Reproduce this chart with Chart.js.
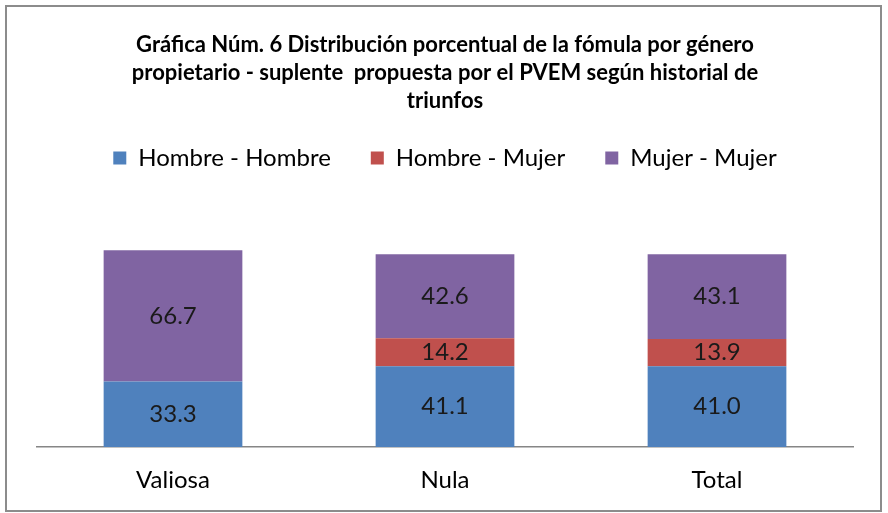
<!DOCTYPE html>
<html>
<head>
<meta charset="utf-8">
<script src="https://cdn.jsdelivr.net/npm/chart.js@4.4.1/dist/chart.umd.min.js"></script>
<style>
  html, body { margin: 0; padding: 0; background: #fff; }
  #wrap { position: relative; width: 888px; height: 513px; }
  #frame { position: absolute; left: 5px; top: 5px; width: 873px; height: 503px; border: 2px solid #8c8c8c; box-sizing: content-box; pointer-events: none; }
</style>
</head>
<body>
<div id="wrap">
  <canvas id="chart" width="888" height="513"></canvas>
  <div id="frame"></div>
</div>
<script>
const categories = ['Valiosa', 'Nula', 'Total'];
const hombreHombre = [33.3, 41.1, 41.0];
const hombreMujer = [0, 14.2, 13.9];
const mujerMujer = [66.7, 42.6, 43.1];
const titleLines = [
    'Gráfica Núm. 6 Distribución porcentual de la fómula por género',
    'propietario - suplente  propuesta por el PVEM según historial de',
    'triunfos'
];

const fontFamily = "Lato, 'Open Sans', sans-serif";

// etiquetas de valor en el centro de cada segmento
const valueLabels = {
    id: 'valueLabels',
    afterDatasetsDraw(chart) {
        const ctx = chart.ctx;
        ctx.save();
        ctx.font = '24px ' + fontFamily;
        ctx.fillStyle = '#1a1a1a';
        ctx.textAlign = 'center';
        ctx.textBaseline = 'middle';
        chart.data.datasets.forEach((ds, i) => {
            const meta = chart.getDatasetMeta(i);
            meta.data.forEach((bar, j) => {
                const v = ds.data[j];
                if (!v) return;
                const mid = (bar.y + bar.base) / 2;
                ctx.fillText(v.toFixed(1), bar.x, mid);
            });
        });
        ctx.restore();
    }
};

const makeSet = (label, data, color) => ({
    label: label,
    data: data,
    backgroundColor: color,
    borderWidth: 0,
    barPercentage: 0.51,
    categoryPercentage: 1
});

new Chart(document.getElementById('chart'), {
    type: 'bar',
    data: {
        labels: categories,
        datasets: [
            makeSet('Hombre - Hombre', hombreHombre, '#4f81bd'),
            makeSet('Hombre - Mujer', hombreMujer, '#c0504d'),
            makeSet('Mujer - Mujer', mujerMujer, '#8064a2')
        ]
    },
    options: {
        responsive: false,
        animation: false,
        layout: { padding: { left: 37, right: 35, top: 0, bottom: 0 } },
        plugins: {
            title: {
                display: true,
                text: titleLines,
                color: '#000',
                font: { family: fontFamily, size: 22, weight: 'bold', lineHeight: '28px' },
                padding: { top: 31, bottom: -9 }
            },
            legend: {
                display: true,
                labels: {
                    color: '#000',
                    font: { family: fontFamily, size: 24 },
                    boxWidth: 13,
                    boxHeight: 13,
                    padding: 40
                }
            },
            tooltip: { enabled: false }
        },
        scales: {
            x: {
                stacked: true,
                grid: { display: false, drawTicks: false },
                border: { display: true, color: '#868686', width: 1.5 },
                ticks: { color: '#000', font: { family: fontFamily, size: 24, lineHeight: 1 }, padding: 21 }
            },
            y: {
                stacked: true,
                display: false,
                min: 0,
                max: 135.7
            }
        }
    },
    plugins: [valueLabels]
});
</script>
</body>
</html>
